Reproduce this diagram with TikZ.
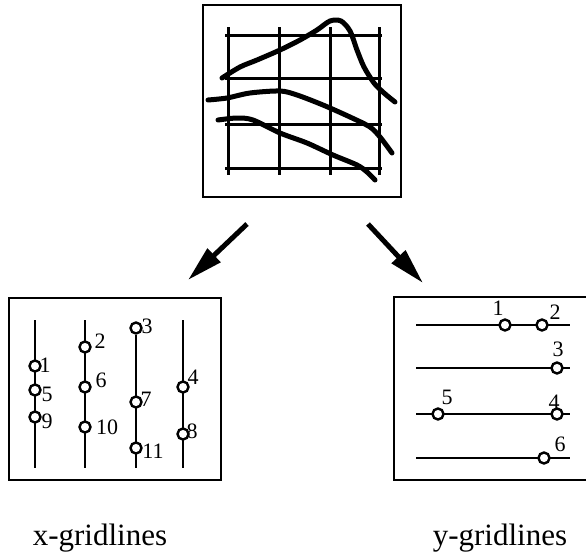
\documentclass[tikz,border=0pt]{standalone}
\usepackage{fontspec}
\setmainfont{Liberation Serif}
\usetikzlibrary{arrows.meta}
\begin{document}
\begin{tikzpicture}[x=1pt,y=-1pt,
  frame/.style={line width=2.2pt},
  gridline/.style={line width=3pt},
  curve/.style={line width=5pt, line cap=round, line join=round},
  track/.style={line width=1.8pt},
  pin/.style={circle, draw, line width=2.4pt, fill=white, minimum size=11pt, inner sep=0pt},
  num/.style={inner sep=0pt, font=\fontsize{22}{22}\selectfont},
  caption/.style={inner sep=0pt, anchor=base, font=\fontsize{31}{31}\selectfont},
  bigarrow/.style={line width=5pt, -{Triangle[length=36pt,width=18pt]}}]
\useasboundingbox (0,0) rectangle (586,552);

% ---- top panel: measured curves over a grid ----
\draw[frame] (203,5) rectangle (401,197);
\foreach \gx in {228,279,330,379} \draw[gridline] (\gx,27) -- (\gx,175);
\foreach \gy in {35,78,124,168} \draw[gridline] (225,\gy) -- (382,\gy);
\draw[curve] plot[smooth, tension=0.5] coordinates {(222,78) (240,67) (257,60) (280,50) (300,40) (317,30) (330,21) (341,21) (350,31) (357,50) (364,67) (374,83) (384,93) (395,102)};
\draw[curve] plot[smooth, tension=0.5] coordinates {(208,100) (227,98) (250,93) (280,91) (297,95) (323,105) (350,117) (370,127) (380,137) (392,153)};
\draw[curve] plot[smooth, tension=0.5] coordinates {(218,120) (237,118) (253,120) (280,133) (307,143) (333,155) (357,165) (367,172) (375,180)};

% ---- arrows ----
\coordinate (la) at (247,224);
\coordinate (lb) at (188,280);
\coordinate (ra) at (368,224);
\coordinate (rb) at (423,283);
\draw[bigarrow] (la) -- (lb);
\draw[bigarrow] (ra) -- (rb);

% ---- lower left: x-gridlines ----
\draw[frame] (9,298) rectangle (221,480);
\foreach \gx/\top in {35/320,85/320,183/320} {
  \coordinate (xt\gx) at (\gx,\top);
  \coordinate (xb\gx) at (\gx,468);
  \draw[track] (xt\gx) -- (xb\gx);
}
\node[pin] (x3) at (136,328) {};
\coordinate (xb136) at (136,468);
\draw[track] (x3) -- (xb136);
\node[pin] (x1) at (35,366) {};
\node[pin] (x5) at (35,390) {};
\node[pin] (x9) at (35,417) {};
\node[pin] (x2) at (85,347) {};
\node[pin] (x6) at (85,387) {};
\node[pin] (x10) at (85,427) {};
\node[pin] (x7) at (136,402) {};
\node[pin] (x11) at (136,448) {};
\node[pin] (x4) at (183,387) {};
\node[pin] (x8) at (183,434) {};
\node[num] (lx1) at (45,365) {1};
\node[num] (lx5) at (47,394) {5};
\node[num] (lx9) at (47,421) {9};
\node[num] (lx2) at (100,341) {2};
\node[num] (lx6) at (101,380) {6};
\node[num] (lx10) at (107,427) {10};
\node[num] (lx3) at (147,326) {3};
\node[num] (lx7) at (146,399) {7};
\node[num] (lx11) at (153,451) {11};
\node[num] (lx4) at (193,377) {4};
\node[num] (lx8) at (192,431) {8};

% ---- lower right: y-gridlines ----
\draw[frame] (590,297) -- (394,297) -- (394,480) -- (590,480);
\foreach \gy in {325,368,414,458} {
  \coordinate (yl\gy) at (416,\gy);
  \coordinate (yr\gy) at (570,\gy);
  \draw[track] (yl\gy) -- (yr\gy);
}
\node[pin] (y1) at (505,325) {};
\node[pin] (y2) at (542,325) {};
\node[pin] (y3) at (557,368) {};
\node[pin] (y5) at (438,414) {};
\node[pin] (y4) at (557,414) {};
\node[pin] (y6) at (544,458) {};
\node[num] (ly1) at (498,308) {1};
\node[num] (ly2) at (555,312) {2};
\node[num] (ly3) at (558,349) {3};
\node[num] (ly5) at (447,397) {5};
\node[num] (ly4) at (554,402) {4};
\node[num] (ly6) at (560,444) {6};

% ---- captions ----
\node[caption] (capx) at (100,545) {x-gridlines};
\node[caption] (capy) at (500,545) {y-gridlines};
\end{tikzpicture}
\end{document}
